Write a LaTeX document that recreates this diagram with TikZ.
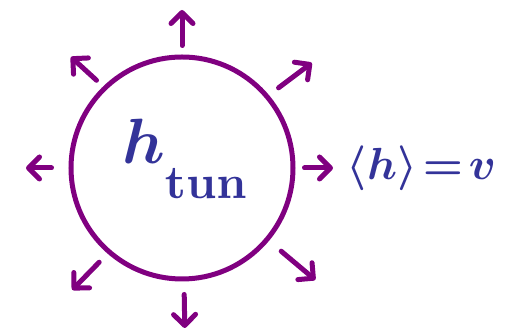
\documentclass[tikz,border=0pt]{standalone}
\usepackage{amsmath}
\usepackage{graphicx}
\usetikzlibrary{arrows.meta,positioning}
\definecolor{ballpurple}{RGB}{128,0,128}
\definecolor{inkblue}{RGB}{51,51,153}

\begin{document}
\begin{tikzpicture}[
      x=1pt, y=1pt,
      ball/.style={draw=ballpurple, circle, line width=5pt, minimum size=222pt, inner sep=0pt},
      ray/.style={draw=ballpurple, line width=5pt, line cap=round,
        -{Straight Barb[length=11pt, width=22pt, round]}},
      inktext/.style={text=inkblue, inner sep=0pt, font=\boldmath}
  ]
    \useasboundingbox (0,0) rectangle (512,336);
    \node[ball] (ball) at (182,168) {};
    % tips of the rays
    \coordinate (tipN)  at ([shift={(90:158)}]ball.center);
    \coordinate (tipNE) at ([shift={(39:167)}]ball.center);
    \coordinate (tipE)  at ([shift={(0:151)}]ball.center);
    \coordinate (tipSE) at ([shift={(-40:174)}]ball.center);
    \coordinate (tipS)  at ([shift={(-89:160)}]ball.center);
    \coordinate (tipSW) at ([shift={(-132:164)}]ball.center);
    \coordinate (tipW)  at ([shift={(180:156)}]ball.center);
    \coordinate (tipNW) at ([shift={(135:157)}]ball.center);
    \draw[ray, shorten <=9pt]  (ball.90)   -- (tipN);
    \draw[ray, shorten <=12pt] (ball.40)   -- (tipNE);
    \draw[ray, shorten <=9pt]  (ball.0)    -- (tipE);
    \draw[ray, shorten <=16pt] (ball.-40)  -- (tipSE);
    \draw[ray, shorten <=13pt] (ball.-89)  -- (tipS);
    \draw[ray, shorten <=12pt] (ball.-131) -- (tipSW);
    \draw[ray, shorten <=17pt] (ball.180)  -- (tipW);
    \draw[ray, shorten <=9pt]  (ball.134)  -- (tipNW);
    \node[inktext, scale=6.4] (htun) at (186,177)
      {$h_{\lower4pt\hbox{\scalebox{0.74}{$\mathrm{tun}$}}}$};
    \node[inktext, scale=4.5, right=13pt of tipE] (vev) {$\langle h\rangle\!=\!v$};
  \end{tikzpicture}
\end{document}
